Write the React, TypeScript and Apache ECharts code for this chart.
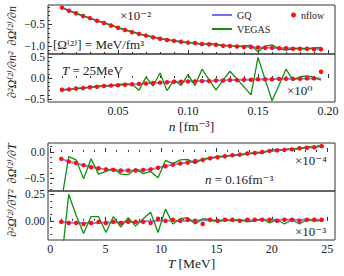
import React, { useEffect, useRef } from "react";
import * as echarts from "echarts";

// ---------- data ----------
const nValues = [
  0.010, 0.015, 0.020, 0.025, 0.030, 0.035, 0.040, 0.045, 0.050, 0.055,
  0.060, 0.065, 0.070, 0.075, 0.080, 0.085, 0.090, 0.095, 0.100, 0.105,
  0.110, 0.115, 0.120, 0.125, 0.130, 0.135, 0.140, 0.145, 0.150, 0.155,
  0.160, 0.165, 0.170, 0.175, 0.180, 0.185, 0.190, 0.195,
];
const tValues = [
  1.00, 1.67, 2.34, 3.01, 3.69, 4.36, 5.03, 5.70, 6.37, 7.04,
  7.71, 8.39, 9.06, 9.73, 10.40, 11.07, 11.74, 12.41, 13.09, 13.76,
  14.43, 15.10, 15.77, 16.44, 17.11, 17.79, 18.46, 19.13, 19.80, 20.47,
  21.14, 21.81, 22.49, 23.16, 23.83, 24.50,
];

// panel 1: dΩ/dn (x10^-2)
const gqDn = [
  -0.12, -0.19, -0.25, -0.31, -0.36, -0.42, -0.47, -0.52, -0.58, -0.63,
  -0.67, -0.72, -0.76, -0.79, -0.83, -0.85, -0.88, -0.90, -0.92, -0.93,
  -0.95, -0.96, -0.97, -0.98, -0.99, -1.00, -1.01, -1.02, -1.03, -1.03,
  -1.04, -1.04, -1.05, -1.05, -1.06, -1.06, -1.06, -1.07,
];
const vegasDn = [
  -0.12, -0.19, -0.25, -0.31, -0.36, -0.42, -0.47, -0.52, -0.58, -0.63,
  -0.67, -0.72, -0.76, -0.79, -0.83, -0.85, -0.88, -0.90, -0.92, -0.93,
  -0.97, -0.93, -0.96, -0.99, -1.00, -1.01, -1.00, -0.98, -1.13, -1.00,
  -0.97, -1.06, -1.09, -1.06, -1.05, -1.06, -1.04, -1.03,
];
const nflowDn = [
  -0.12, -0.19, -0.25, -0.31, -0.36, -0.42, -0.47, -0.53, -0.58, -0.63,
  -0.68, -0.72, -0.76, -0.80, -0.83, -0.86, -0.88, -0.90, -0.92, -0.93,
  -0.95, -0.96, -0.97, -0.99, -1.00, -1.01, -1.02, -1.02, -1.03, -1.04,
  -1.04, -1.05, -1.05, -1.06, -1.06, -1.06, -1.07, -1.07,
];

// panel 2: d2Ω/dn2 (x10^0)
const gqDn2 = [
  -0.28, -0.27, -0.25, -0.24, -0.22, -0.21, -0.19, -0.18, -0.17, -0.16,
  -0.15, -0.14, -0.13, -0.12, -0.11, -0.10, -0.09, -0.09, -0.08, -0.08,
  -0.07, -0.07, -0.06, -0.06, -0.05, -0.05, -0.04, -0.04, -0.03, -0.03,
  -0.03, -0.02, -0.02, -0.02, -0.02, -0.01, -0.01, -0.01,
];
const vegasDn2 = [
  -0.29, -0.27, -0.25, -0.24, -0.22, -0.19, -0.19, -0.18, -0.16, -0.14,
  -0.15, -0.29, 0.02, -0.19, 0.12, -0.30, -0.05, -0.18, 0.08, -0.18,
  0.21, -0.04, -0.29, -0.05, 0.16, -0.03, -0.21, -0.40, 0.49, -0.02,
  -0.54, -0.17, 0.21, -0.05, 0.03, 0.05, 0.02, -0.05,
];
const nflowDn2 = [
  -0.28, -0.27, -0.25, -0.24, -0.22, -0.21, -0.19, -0.18, -0.17, -0.16,
  -0.15, -0.14, -0.13, -0.12, -0.11, -0.10, -0.09, -0.09, -0.08, -0.08,
  -0.07, -0.07, -0.06, -0.06, -0.05, -0.05, -0.04, -0.04, -0.03, -0.03,
  -0.03, -0.02, -0.02, -0.02, -0.02, -0.01, -0.01, 0.15,
];

// panel 3: dΩ/dT (x10^-4)
const gqDt = [
  -0.13, -0.18, -0.22, -0.25, -0.28, -0.31, -0.33, -0.34, -0.35, -0.35,
  -0.35, -0.34, -0.33, -0.30, -0.27, -0.24, -0.22, -0.20, -0.17, -0.15,
  -0.12, -0.10, -0.08, -0.06, -0.05, -0.03, -0.02, 0.00, 0.02, 0.03,
  0.04, 0.05, 0.07, 0.08, 0.09, 0.11,
];
const vegasDt = [
  -0.95, -0.09, -0.15, -0.51, -0.13, -0.42, -0.37, -0.31, -0.42, -0.43,
  -0.32, -0.41, -0.37, -0.49, -0.16, -0.22, -0.15, -0.14, -0.22, -0.13,
  -0.11, -0.09, -0.08, -0.07, -0.06, -0.04, -0.01, -0.02, 0.03, 0.05,
  0.04, 0.07, 0.05, 0.10, 0.09, 0.13,
];
const nflowDt = [
  -0.13, -0.18, -0.21, -0.25, -0.29, -0.31, -0.33, -0.34, -0.35, -0.35,
  -0.35, -0.34, -0.33, -0.30, -0.27, -0.24, -0.22, -0.20, -0.17, -0.15,
  -0.12, -0.10, -0.08, -0.06, -0.05, -0.03, -0.02, 0.00, 0.02, 0.03,
  0.04, 0.05, 0.07, 0.08, 0.09, 0.11,
];

// panel 4: d2Ω/dT2 (x10^-3)
const gqDt2 = [
  -0.010, -0.015, -0.020, -0.020, -0.020, -0.020, -0.015, -0.015, -0.010, -0.010,
  -0.010, -0.005, -0.005, 0.000, 0.000, 0.000, 0.000, 0.000, 0.005, 0.005,
  0.005, 0.005, 0.005, 0.005, 0.005, 0.005, 0.005, 0.010, 0.010, 0.010,
  0.010, 0.010, 0.010, 0.010, 0.010, 0.010,
];
const vegasDt2 = [
  -0.40, 0.25, 0.05, -0.12, 0.04, 0.04, -0.11, 0.04, -0.06, 0.03,
  -0.05, 0.02, 0.08, -0.11, 0.11, -0.03, 0.02, 0.03, -0.03, 0.02,
  0.01, -0.01, 0.01, 0.00, 0.01, -0.01, 0.00, 0.02, -0.02, 0.01,
  -0.03, 0.01, -0.03, 0.01, 0.00, 0.00,
];
const nflowDt2 = [
  -0.01, -0.02, -0.02, -0.03, -0.02, -0.01, -0.02, -0.01, -0.02, -0.01,
  -0.01, -0.01, -0.02, 0.02, 0.00, 0.01, 0.00, 0.01, 0.00, -0.03,
  0.01, 0.00, 0.01, 0.01, 0.00, 0.01, 0.01, 0.01, 0.01, 0.00,
  0.01, 0.01, 0.00, 0.01, 0.01, 0.01,
];

// tick labels
const nTicks = [0.05, 0.10, 0.15, 0.20];
const tTicks = [0, 5, 10, 15, 20, 25];
const p1Ticks = [-1.0, -0.5];
const p2Ticks = [-0.5, 0.0, 0.5];
const p3Ticks = [-0.5, 0.0];
const p4Ticks = [0.0, 0.25];

// ---------- styling ----------
const FONT = '"Liberation Serif", "DejaVu Serif", serif';
const AX = "#333";
const TXT = "#222";
const BLUE = "#6e6eff";
const GREEN = "#148c14";
const RED = "#ff1010";

function minorTicks(min: number, max: number, step: number): number[] {
  const out: number[] = [];
  const s = Math.ceil(min / step - 1e-9);
  const e = Math.floor(max / step + 1e-9);
  for (let i = s; i <= e; i++) out.push(+(i * step).toFixed(6));
  return out;
}
const fmt = (d: number) => (v: number) =>
  (v < -1e-9 ? "\u2212" : "") + Math.abs(v).toFixed(d);

const LEFT = 48;
const WIDTH = 287;
const TICK_FS = 12;
const YTICK_FS = 11.5;
const ANN_FS = 13;

type Panel = {
  top: number; height: number;
  xMin: number; xMax: number; xTicks: number[]; xMinorStep: number;
  xShow: boolean; xFmt: (v: number) => string; xName: string; xNameGap: number;
  yMin: number; yMax: number; yTicks: number[]; yMinorStep: number; yFmt: (v: number) => string;
  xs: number[]; gq: number[]; vegas: number[]; nflow: number[];
};

const panels: Panel[] = [
  { top: 5, height: 49, xMin: 0, xMax: 0.205, xTicks: nTicks, xMinorStep: 0.01, xShow: false,
    xFmt: fmt(2), xName: "", xNameGap: 0,
    yMin: -1.18, yMax: -0.06, yTicks: p1Ticks, yMinorStep: 0.1, yFmt: fmt(1),
    xs: nValues, gq: gqDn, vegas: vegasDn, nflow: nflowDn },
  { top: 54, height: 48, xMin: 0, xMax: 0.205, xTicks: nTicks, xMinorStep: 0.01, xShow: true,
    xFmt: fmt(2), xName: "{i|n} [fm⁻³]", xNameGap: 17,
    yMin: -0.57, yMax: 0.57, yTicks: p2Ticks, yMinorStep: 0.1, yFmt: fmt(1),
    xs: nValues, gq: gqDn2, vegas: vegasDn2, nflow: nflowDn2 },
  { top: 143, height: 48, xMin: -0.2, xMax: 25.7, xTicks: tTicks, xMinorStep: 1, xShow: false,
    xFmt: (v) => String(v), xName: "", xNameGap: 0,
    yMin: -0.74, yMax: 0.17, yTicks: p3Ticks, yMinorStep: 0.1, yFmt: fmt(1),
    xs: tValues, gq: gqDt, vegas: vegasDt, nflow: nflowDt },
  { top: 191, height: 49, xMin: -0.2, xMax: 25.7, xTicks: tTicks, xMinorStep: 1, xShow: true,
    xFmt: (v) => String(v), xName: "{i|T} [MeV]", xNameGap: 16,
    yMin: -0.18, yMax: 0.28, yTicks: p4Ticks, yMinorStep: 0.0625, yFmt: fmt(2),
    xs: tValues, gq: gqDt2, vegas: vegasDt2, nflow: nflowDt2 },
];

function buildOption() {
  const grid: any[] = [];
  const xAxis: any[] = [];
  const yAxis: any[] = [];
  const series: any[] = [];
  panels.forEach((p, i) => {
    grid.push({
      left: LEFT, top: p.top, width: WIDTH, height: p.height,
      show: true, borderColor: AX, borderWidth: 1, backgroundColor: "transparent",
      containLabel: false,
    });
    const base = { type: "value", gridIndex: i, min: p.xMin, max: p.xMax,
      splitLine: { show: false }, axisLine: { show: false } };
    xAxis.push({
      ...base, position: "bottom",
      axisTick: { show: true, inside: true, length: 4, customValues: p.xTicks,
        lineStyle: { color: AX, width: 1 } },
      axisLabel: { show: p.xShow, customValues: p.xTicks, formatter: p.xFmt, margin: 3,
        fontFamily: FONT, fontSize: TICK_FS, color: TXT },
      name: p.xName, nameLocation: "middle", nameGap: p.xNameGap,
      nameTextStyle: { fontFamily: FONT, fontSize: 13.5, color: TXT,
        rich: { i: { fontFamily: FONT, fontSize: 13.5, fontStyle: "italic", color: TXT } } },
    });
    xAxis.push({
      ...base, position: "bottom",
      axisTick: { show: true, inside: true, length: 2,
        customValues: minorTicks(p.xMin, p.xMax, p.xMinorStep), lineStyle: { color: AX, width: 1 } },
      axisLabel: { show: false },
    });
    const ybase = { type: "value", gridIndex: i, min: p.yMin, max: p.yMax,
      splitLine: { show: false }, axisLine: { show: false } };
    yAxis.push({
      ...ybase, position: "left",
      axisTick: { show: true, inside: true, length: 4, customValues: p.yTicks,
        lineStyle: { color: AX, width: 1 } },
      axisLabel: { show: true, customValues: p.yTicks, formatter: p.yFmt, margin: 3,
        fontFamily: FONT, fontSize: YTICK_FS, lineHeight: 10, color: TXT },
    });
    yAxis.push({
      ...ybase, position: "left",
      axisTick: { show: true, inside: true, length: 2,
        customValues: minorTicks(p.yMin, p.yMax, p.yMinorStep), lineStyle: { color: AX, width: 1 } },
      axisLabel: { show: false },
    });
    const xi = 2 * i;
    series.push({
      type: "line", name: "GQ", xAxisIndex: xi, yAxisIndex: xi,
      data: p.xs.map((x, j) => [x, p.gq[j]]), symbol: "none", showSymbol: false,
      lineStyle: { color: BLUE, width: 2, opacity: 0.85 }, itemStyle: { color: BLUE }, z: 2,
    });
    series.push({
      type: "line", name: "VEGAS", xAxisIndex: xi, yAxisIndex: xi,
      data: p.xs.map((x, j) => [x, p.vegas[j]]), symbol: "none", showSymbol: false,
      lineStyle: { color: GREEN, width: 1.3 }, itemStyle: { color: GREEN }, z: 3,
    });
    series.push({
      type: "scatter", name: "nflow", xAxisIndex: xi, yAxisIndex: xi,
      data: p.xs.map((x, j) => [x, p.nflow[j]]), symbol: "circle", symbolSize: 4.5,
      itemStyle: { color: RED, opacity: 1 }, z: 4,
    });
  });

  const txt = (x: number, y: number, text: string, extra: any = {}) => ({
    type: "text", x, y, z: 10,
    style: { text, fill: TXT, fontFamily: FONT, fontSize: ANN_FS, align: "left",
      verticalAlign: "middle",
      rich: { i: { fontFamily: FONT, fontSize: ANN_FS, fontStyle: "italic", fill: TXT } },
      ...extra },
  });

  const graphic = [
    { type: "text", x: 12, y: 52, rotation: Math.PI / 2, z: 10,
      style: { text: "∂²Ω⁽²⁾/∂n²  ∂Ω⁽²⁾/∂n", fill: TXT, fontFamily: FONT, fontSize: 12,
        fontStyle: "italic", align: "center", verticalAlign: "middle" } },
    { type: "text", x: 12, y: 190, rotation: Math.PI / 2, z: 10,
      style: { text: "∂²Ω⁽²⁾/∂T²  ∂Ω⁽²⁾/∂T", fill: TXT, fontFamily: FONT, fontSize: 12,
        fontStyle: "italic", align: "center", verticalAlign: "middle" } },
    txt(120, 15, "×10⁻²"),
    txt(53, 44, "[Ω⁽²⁾] = MeV/fm³"),
    txt(62, 70, "{i|T} = 25MeV"),
    txt(287, 90, "×10⁰"),
    txt(295, 160, "×10⁻⁴"),
    txt(205, 179, "{i|n} = 0.16fm⁻³"),
    txt(295, 231, "×10⁻³"),
  ];

  return {
    animation: false,
    backgroundColor: "#fff",
    grid, xAxis, yAxis, series, graphic,
    legend: [
      { data: [{ name: "GQ", icon: "rect" }, { name: "VEGAS", icon: "rect" }],
        orient: "vertical", left: 212, top: 10, itemWidth: 20, itemHeight: 2, itemGap: 4,
        selectedMode: false, padding: 0,
        textStyle: { fontFamily: FONT, fontSize: 10, color: TXT } },
      { data: [{ name: "nflow", icon: "circle" }], orient: "vertical", left: 291, top: 10,
        itemWidth: 5, itemHeight: 5, selectedMode: false, padding: 0,
        textStyle: { fontFamily: FONT, fontSize: 10, color: TXT } },
    ],
  };
}

export default function App() {
  const ref = useRef<HTMLDivElement>(null);
  useEffect(() => {
    document.body.style.margin = "0";
    if (!ref.current) return;
    const chart = echarts.init(ref.current, undefined, { renderer: "svg" });
    chart.setOption(buildOption() as any);
    return () => chart.dispose();
  }, []);
  return <div ref={ref} style={{ width: 344, height: 276, position: "absolute", left: 0, top: 0 }} />;
}
